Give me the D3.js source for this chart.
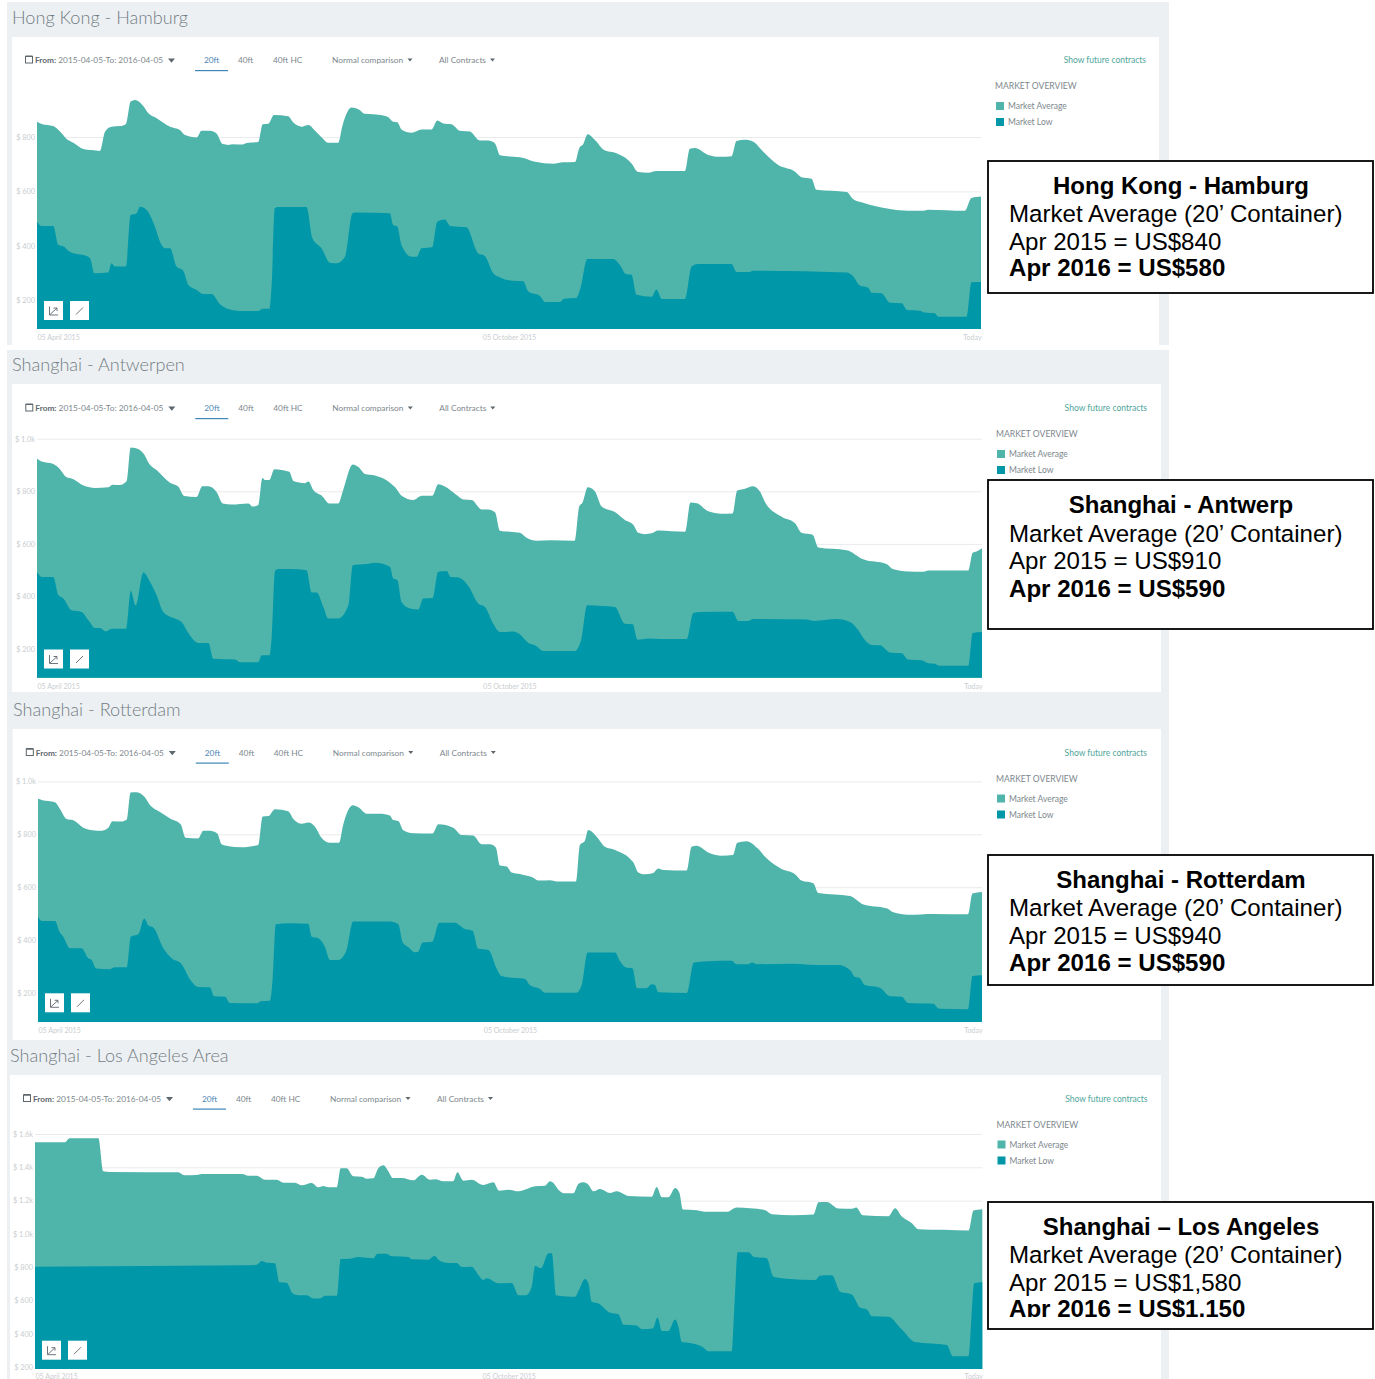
<!DOCTYPE html>
<html>
<head>
<meta charset="utf-8">
<script src="https://cdn.jsdelivr.net/npm/d3@7.9.0/dist/d3.min.js"></script>
<style>
  html, body { margin: 0; padding: 0; background: #fff; overflow: hidden; }
  svg { display: block; font-family: Lato, "Open Sans", sans-serif; }
  .box text { font-family: "Liberation Sans", Arial, sans-serif; fill: #000; }
</style>
</head>
<body>
<svg id="chart" width="1375" height="1379"></svg>
<script>
// every series is [days since 05 April 2015, US$]
const hamburgAvg = [[0,856],[1.8,848],[6.3,840],[8.9,820],[11.5,793],[14.1,779],[18,756],[21.2,752],[24.4,749],[26.4,820],[28.9,838],[32.2,840],[34.5,848],[36.3,930],[38,936],[41.2,914],[43.2,887],[46.4,869],[51.6,838],[55.4,826],[57.4,807],[61.9,798],[63.8,823],[67.1,823],[69.6,813],[72,774],[74.2,771],[76.1,773],[79.3,772],[81.3,778],[85.8,782],[87.5,847],[89.7,849],[91.9,881],[97.4,876],[99.4,853],[102.6,838],[105.2,844],[107.8,823],[110.3,799],[112.9,779],[116.8,779],[118.5,844],[122,908],[124.6,902],[127.1,885],[133,881],[136.2,873],[138.1,856],[139.7,854],[141.3,828],[145.2,816],[149.1,828],[153,828],[155.2,861],[157.5,850],[160.7,847],[164,823],[167.8,820],[171.7,787],[174.9,787],[177.5,777],[179.5,733],[183.4,728],[188.5,723],[193.1,709],[200.2,702],[204,707],[208.6,708],[210.2,758],[211.8,774],[213.5,810],[216.3,789],[220.2,750],[224.1,742],[230.5,703],[233.1,671],[237,669],[240.2,675],[251.2,675],[253.1,757],[255.1,760],[260.3,734],[264.8,727],[269.3,729],[271.2,785],[274.5,790],[277.7,783],[281.6,746],[287.4,697],[293.8,673],[296.4,652],[300.3,647],[302.2,606],[313.9,598],[316.5,571],[319.7,560],[330.7,535],[337.8,529],[343.6,529],[345.5,533],[359.7,529],[362.3,576],[366,581]];
const hamburgLow = [[0,489],[1.8,473],[6.3,473],[8.3,403],[10.5,397],[12.1,382],[15.4,370],[18,366],[20.6,354],[22.2,299],[27.6,302],[28.9,336],[30.2,324],[34.5,324],[36.3,513],[38.6,520],[39.9,544],[42.5,532],[45.7,471],[47.7,415],[49.6,391],[51.6,391],[54.1,324],[56.7,309],[58.7,256],[61.9,238],[64.5,223],[67.7,223],[70.9,186],[73.5,170],[78.7,161],[85.8,161],[87.7,169],[90.1,169],[91,262],[92.2,538],[93.5,543],[104.5,543],[106.8,428],[110.3,391],[113.6,338],[116.2,336],[119.4,360],[122.3,520],[123.3,523],[136.8,520],[138.1,477],[139.7,471],[141.3,403],[145.2,360],[147.2,360],[149.1,391],[153.2,395],[155.2,489],[158.1,497],[160.3,473],[166.5,468],[171,373],[173.6,363],[176.9,299],[179.5,284],[183.4,273],[188.5,270],[190.5,232],[195,216],[197,194],[202.8,194],[204.3,206],[209,208],[210.5,238],[213.4,352],[223.4,352],[226,330],[228.3,297],[230.5,294],[232.5,220],[238.3,213],[240.2,240],[242.2,205],[251.2,205],[253.8,324],[256.4,333],[269.3,333],[271.2,304],[275.8,304],[277.7,309],[313.9,302],[316.5,287],[319,254],[322.3,246],[323.6,228],[327.4,226],[330.7,191],[335.2,189],[337.4,164],[342.3,162],[344.2,155],[348.1,152],[349.4,140],[360.4,140],[362.3,266],[366,267]];

const antwerpAvg = [[0,925],[1.8,913],[6.3,904],[8.9,884],[11.2,855],[14.1,846],[18,822],[22.5,813],[27.6,815],[29.2,825],[32.1,824],[34.7,838],[36.3,967],[38,965],[41.4,942],[43.5,904],[46.3,881],[51.5,833],[54.7,818],[57,782],[61.8,778],[64,819],[66.4,819],[69.6,796],[71.9,754],[75.4,750],[81.9,754],[83.5,742],[85.7,748],[87.3,851],[88.3,843],[90,843],[91.9,884],[97.7,874],[99.3,839],[103.8,831],[105.1,837],[107,805],[110.3,783],[113.2,754],[116.7,754],[118.6,805],[122.3,902],[124.5,892],[127,866],[130.9,860],[136.7,833],[138.7,815],[141.2,783],[145.8,767],[149,783],[153.1,783],[155.4,827],[158,818],[162.5,786],[165.1,769],[168.4,767],[172.2,731],[174.8,731],[177.4,720],[179.3,650],[183.2,646],[187,642],[189.6,623],[193.5,612],[198.7,614],[208.3,612],[210,742],[211.3,757],[213.3,815],[216.1,799],[218.7,742],[223.8,721],[227.7,691],[231,672],[232.9,642],[235.5,637],[238,640],[240.6,651],[251,646],[253.1,757],[255.5,755],[260,724],[265.1,715],[269.4,716],[271.2,803],[274.2,810],[277.2,819],[280,799],[282,758],[288.4,703],[293.6,678],[296.1,642],[300.4,635],[302.6,586],[313.6,576],[320,541],[329,523],[331.4,504],[337.4,495],[343.3,494],[345.2,499],[360.7,499],[362.4,566],[363.9,571],[366,583]];
const antwerpLow = [[0,494],[1.8,474],[6.3,474],[8.3,405],[10.2,392],[13.4,347],[17.3,341],[19.9,309],[22.5,280],[24.4,280],[26.7,267],[28.9,277],[34.5,277],[36.3,421],[38.2,366],[41.2,491],[43.8,455],[46.3,405],[48.9,341],[52.8,318],[56,303],[58.6,261],[62.5,223],[66.4,223],[68.3,163],[76.7,160],[78.6,150],[85.7,150],[87,176],[90,176],[90.9,246],[92.2,497],[93.5,504],[98,504],[104.4,500],[106.4,415],[108.3,415],[110.9,360],[112.8,316],[116.7,316],[120.6,366],[122.3,519],[127.7,523],[130.9,528],[136.7,513],[138,468],[139.6,462],[141.2,379],[144.5,354],[147.7,350],[149.6,392],[153.2,394],[155.4,494],[158.7,497],[160.2,474],[163.2,472],[167.1,439],[170.9,373],[173.5,360],[176.7,296],[179.3,265],[183.2,266],[184.5,267],[187,256],[190.3,223],[192.9,214],[196.1,192],[208.3,192],[210.7,233],[213.1,366],[218.7,364],[223.8,360],[227.7,296],[230.7,294],[232.6,235],[236.8,240],[241.3,238],[251.6,238],[254.2,337],[256.8,341],[269.4,342],[271.6,307],[275.5,307],[277.4,314],[298.1,312],[300.7,307],[309.7,314],[314.9,303],[318.1,271],[320.7,233],[323.3,215],[326.5,214],[330.3,187],[334.9,184],[337.4,160],[342.6,157],[345.2,146],[347.8,144],[349.5,136],[360.7,136],[362.4,261],[366,265]];

const rotterdamAvg = [[0,934],[1.4,930],[6.6,921],[8.5,896],[11.1,858],[13.7,853],[17.6,825],[22.1,814],[24,813],[27.3,825],[28.9,849],[31.8,848],[34.4,855],[35.9,958],[38,959],[41.5,939],[43.4,911],[47,886],[51.2,860],[55.3,838],[57.2,787],[62.1,784],[64.1,813],[66.7,813],[69.5,803],[71.2,762],[73.8,755],[78.9,751],[85.4,760],[87.1,867],[89.3,869],[91.9,895],[97,887],[99,858],[102.2,840],[104.8,845],[107.4,829],[109.9,787],[113.2,768],[116.7,768],[118.3,835],[122,910],[124.2,902],[127.4,878],[132.6,878],[136.4,871],[137.7,854],[139.7,850],[141.6,815],[145.5,804],[153,803],[155.2,838],[161,825],[164.2,797],[168.7,795],[172,762],[175.2,762],[177.5,750],[179.1,682],[181.7,678],[183.6,656],[186.9,650],[188.8,645],[192,636],[194,625],[198.5,626],[201.1,622],[208.6,622],[210.1,760],[212,775],[213.3,816],[216.6,791],[219.8,753],[223.7,741],[230.8,694],[232.7,656],[235.3,649],[238.5,654],[240.5,671],[242.4,665],[251.5,663],[253.4,753],[255.3,757],[260.5,728],[265,719],[269.5,722],[271.1,768],[274.7,774],[279.2,745],[281.8,716],[288.3,669],[293.4,650],[296,625],[300.6,615],[302.5,578],[314.8,567],[320,535],[329,520],[331.6,505],[337.4,496],[347.1,499],[360.6,498],[362.3,576],[366,582]];
const rotterdamLow = [[0,489],[1.4,472],[6.6,472],[8.3,432],[9.8,413],[12.4,369],[16.9,369],[19.5,331],[20.8,325],[22.5,293],[27.9,290],[29.8,297],[34.4,297],[36,413],[38.9,422],[41.2,482],[42.8,455],[44.7,448],[48.6,369],[51.8,331],[55.7,309],[58.9,252],[62.1,223],[66.7,222],[68.2,188],[72.5,186],[74.4,162],[84.8,161],[86.7,170],[89.9,171],[91,256],[92.2,460],[97.7,464],[104.8,462],[106.1,413],[108.7,407],[111.2,375],[113.2,325],[116.4,325],[119.4,356],[122.2,470],[136.4,470],[139.7,460],[141.3,394],[143.6,373],[146.1,354],[147.4,356],[149.1,391],[152.8,394],[155.6,466],[161.6,466],[165.5,442],[168.5,435],[170.7,367],[174.6,363],[177.8,293],[179.7,264],[183.6,258],[186.9,256],[188.8,253],[190.7,230],[194.6,215],[196.5,201],[208.8,201],[210.8,230],[213.1,353],[223.7,353],[225.6,321],[228,296],[230.5,293],[232.3,218],[235.9,218],[237.9,233],[239.2,230],[240.5,203],[251.5,200],[254.3,315],[261.8,321],[268.9,322],[270.8,309],[275.4,309],[276.9,315],[278.6,309],[292.8,311],[301.8,306],[310.2,306],[314.8,287],[316.7,261],[318.6,256],[320.6,230],[326.4,220],[330.3,188],[334.8,186],[337.4,162],[347.1,159],[349.4,140],[360.6,139],[362.3,264],[366,267]];

const losAngelesAvg = [[0,1551],[11.6,1551],[13.3,1575],[24.5,1575],[26.4,1376],[29,1372],[55.4,1370],[57.6,1352],[62.5,1354],[64.4,1360],[79.9,1360],[82.4,1350],[85.7,1350],[88.9,1326],[93.4,1326],[96,1308],[100.5,1308],[103,1292],[106.9,1306],[109.5,1280],[111.4,1288],[113.3,1280],[116.6,1280],[118.1,1394],[120.4,1394],[123,1346],[126.2,1344],[128.2,1332],[130.7,1334],[132.7,1396],[134.6,1412],[136.5,1376],[138.2,1336],[141.7,1336],[146.2,1322],[149.4,1356],[152.6,1326],[154.6,1328],[157.8,1316],[161.6,1316],[163.2,1370],[165.5,1320],[168.7,1326],[173.2,1294],[177.1,1310],[179.3,1260],[182.9,1266],[186.8,1256],[193.2,1286],[197.1,1290],[199,1316],[200.3,1306],[202.2,1266],[204.8,1244],[208,1244],[210,1302],[211.9,1310],[213.8,1296],[215.8,1256],[218.3,1270],[222.2,1246],[224.8,1256],[229.3,1228],[238.3,1224],[240.2,1282],[242.2,1220],[244.7,1220],[247.3,1276],[249,1246],[250.3,1147],[255.7,1143],[259.6,1133],[267.3,1133],[271.1,1159],[276.3,1155],[282.1,1143],[284.7,1119],[293,1113],[300.8,1117],[302.7,1190],[305.9,1192],[310.4,1153],[315.6,1151],[317.3,1159],[319.8,1113],[329.7,1107],[332.3,1155],[334.9,1105],[338.8,1065],[341.3,1029],[351,1025],[360.7,1021],[362.6,1141],[366,1149]];
const losAngelesLow = [[0,804],[56.7,810],[81.8,812],[85.7,816],[87.6,838],[89.5,828],[92.7,824],[94.4,710],[97.2,708],[99.6,643],[101.8,633],[105,633],[107.6,613],[110.1,613],[112.1,629],[116.6,629],[118.1,850],[121.7,852],[124.9,862],[130.7,854],[132.3,882],[135.9,882],[137.8,866],[144.3,862],[145.5,848],[152,846],[154.3,868],[156.5,838],[159.7,826],[162.9,826],[164.9,802],[168.7,804],[171.3,754],[173.2,724],[174.5,734],[179,704],[184.2,706],[186.8,633],[189.7,633],[191.9,684],[193.2,808],[195.5,794],[198.4,884],[199.7,884],[201.3,633],[208.7,623],[210,659],[212.5,730],[213.8,704],[215.1,593],[217.7,583],[222.2,527],[225.4,519],[227.4,455],[232.5,451],[234.4,429],[238.7,433],[240.5,499],[242.2,418],[244.7,418],[247.3,487],[248.6,443],[249.9,352],[253.1,346],[258.3,318],[260.2,296],[269.2,296],[270.2,563],[271.5,890],[275.7,890],[277.6,864],[282.7,854],[285.3,744],[290.5,732],[301.4,724],[303.3,750],[307.9,752],[311.1,653],[315.6,637],[318.8,557],[321.4,547],[323.3,507],[329.7,503],[334.9,427],[340,352],[352.3,334],[354.6,266],[360.7,266],[362.9,704],[366,710]];

const shortTicks = [200, 400, 600, 800];
const midTicks = [200, 400, 600, 800, 1000];
const longTicks = [200, 400, 600, 800, 1000, 1200, 1400, 1600];
const xTicks = [0, 183, 366];
const xTickLabels = ['05 April 2015', '05 October 2015', 'Today'];
const lastDay = 366;

const containerTabs = ['20ft', '40ft', '40ft HC'];
const rangeLabel = '2015-04-05-To: 2016-04-05';
const legendLabels = ['Market Average', 'Market Low'];

const avgColor = '#4fb4aa';
const lowColor = '#0097a9';
const pageGray = '#ecf0f3';
const labelGray = '#7d878d';
const tickGray = '#c9cdcf';

const panels = [
  { title: 'Hong Kong - Hamburg', titleX: 12, titleY: 24, avg: hamburgAvg, low: hamburgLow, ticks: shortTicks,
    card: [12, 37, 1159, 345], x0: 37, x1: 981, y200: 300.3, y800: 137, base: 329, barY: 60, barDx: 0, sideDx: 0, btnY: 301, btnDx: 0, xLabelY: 344,
    box: { top: 161, bottom: 293, head: 'Hong Kong - Hamburg', lines: [194, 222, 250, 276], was: 'US$840', now: 'US$580' } },
  { title: 'Shanghai - Antwerpen', titleX: 12, titleY: 371, avg: antwerpAvg, low: antwerpLow, ticks: midTicks,
    card: [12, 384, 1161, 692], x0: 37, x1: 982, y200: 649, y800: 491.3, base: 677.7, barY: 408, barDx: 0.3, sideDx: 1, btnY: 649.5, btnDx: 0, xLabelY: 693,
    box: { top: 480, bottom: 629, head: 'Shanghai - Antwerp', lines: [513, 542, 569, 597], was: 'US$910', now: 'US$590' } },
  { title: 'Shanghai - Rotterdam', titleX: 13, titleY: 716, avg: rotterdamAvg, low: rotterdamLow, ticks: midTicks,
    card: [12.7, 729, 1161, 1040], x0: 38, x1: 982, y200: 993, y800: 834.3, base: 1022, barY: 752.5, barDx: 0.8, sideDx: 1, btnY: 993.3, btnDx: 1, xLabelY: 1037,
    box: { top: 855, bottom: 985, head: 'Shanghai - Rotterdam', lines: [888, 916, 944, 971], was: 'US$940', now: 'US$590' } },
  { title: 'Shanghai - Los Angeles Area', titleX: 10, titleY: 1062, avg: losAngelesAvg, low: losAngelesLow, ticks: longTicks,
    card: [10, 1075, 1161, 1379], x0: 35, x1: 982.3, y200: 1367.3, y800: 1267.3, base: 1369, barY: 1098.5, barDx: -2, sideDx: 1.5, btnY: 1340.7, btnDx: -2, xLabelY: 1383,
    box: { top: 1202, bottom: 1329, head: 'Shanghai \u2013 Los Angeles', lines: [1235, 1263, 1291, 1317], was: 'US$1,580', now: 'US$1,150', clipAt: 1317 } }
];

const svg = d3.select('#chart');

// gray page bands behind the cards
svg.append('rect').attr('x', 7).attr('y', 2).attr('width', 1162).attr('height', 343).attr('fill', pageGray);
svg.append('rect').attr('x', 7).attr('y', 350).attr('width', 1162).attr('height', 1029).attr('fill', pageGray);

function tickText(d) {
  return d >= 1000 ? `$ ${(d / 1000).toFixed(1)}k` : `$ ${d}`;
}

function drawToolbar(g, p) {
  const bar = g.append('g').attr('transform', `translate(${p.barDx},${p.barY})`);
  const label = (x, text, color = labelGray) => bar.append('text')
    .attr('x', x).attr('y', 3).attr('font-size', 8.3).attr('fill', color).text(text);
  const caret = (x, w) => bar.append('path')
    .attr('d', `M${x},-1.5h${w}l${-w / 2},${w * 0.6}z`).attr('fill', '#5d676d');

  bar.append('rect').attr('x', 25.5).attr('y', -3.5).attr('width', 7).attr('height', 6.5)
    .attr('fill', 'none').attr('stroke', '#5d676d');
  bar.append('rect').attr('x', 25.5).attr('y', -4.5).attr('width', 7).attr('height', 1.5).attr('fill', '#5d676d');
  bar.append('text').attr('x', 35).attr('y', 3).attr('font-size', 8.3).attr('fill', labelGray)
    .html(`<tspan font-weight="700" fill="#5d676d">From:</tspan> ${rangeLabel}`);
  caret(168, 7);

  const tabX = [204, 238, 273];
  containerTabs.forEach((t, i) => label(tabX[i], t, i === 0 ? '#4d86b5' : labelGray));
  bar.append('rect').attr('x', 195).attr('y', 10).attr('width', 33).attr('height', 1.2).attr('fill', '#3f86b8');

  label(332, 'Normal comparison');
  caret(407.5, 5);
  label(439, 'All Contracts');
  caret(490, 5);

  bar.append('text').attr('x', 1146 - p.barDx + p.sideDx).attr('y', 3).attr('font-size', 8.5)
    .attr('text-anchor', 'end').attr('fill', '#4fa59b').text('Show future contracts');
}

function drawLegend(g, p) {
  const side = g.append('g').attr('transform', `translate(${995 + p.sideDx},${p.barY + 26})`);
  side.append('text').attr('y', 3).attr('font-size', 8.6).attr('fill', labelGray).text('MARKET OVERVIEW');
  legendLabels.forEach((name, i) => {
    const row = side.append('g').attr('transform', `translate(0,${20 + i * 16})`);
    row.append('rect').attr('x', 1).attr('y', -4).attr('width', 8).attr('height', 8)
      .attr('fill', i === 0 ? avgColor : lowColor);
    row.append('text').attr('x', 13).attr('y', 3).attr('font-size', 8.5).attr('fill', labelGray).text(name);
  });
}

function drawButtons(g, p) {
  [44, 70].forEach((bx, i) => {
    const b = g.append('g').attr('transform', `translate(${bx + p.btnDx},${p.btnY})`);
    b.append('rect').attr('width', 19).attr('height', 19).attr('fill', '#fff');
    b.append('path')
      .attr('d', i === 0 ? 'M5.5,5.5V14H14M6,13.5L13,7M9.5,7H13V10' : 'M6,13.5L13,6.5')
      .attr('fill', 'none').attr('stroke', '#5d676d').attr('stroke-width', 0.9);
  });
}

function drawInfoBox(g, box, index) {
  const b = box;
  const left = 988, right = 1373;
  const wrap = g.append('g').attr('class', 'box');
  wrap.append('rect').attr('x', left).attr('y', b.top).attr('width', right - left).attr('height', b.bottom - b.top)
    .attr('fill', '#fff').attr('stroke', '#000').attr('stroke-width', 1.8);
  wrap.append('text').attr('x', 1181).attr('y', b.lines[0]).attr('text-anchor', 'middle')
    .attr('font-size', 24).attr('font-weight', 700).text(b.head);
  wrap.append('text').attr('x', 1009).attr('y', b.lines[1]).attr('font-size', 24.1).text('Market Average (20\u2019 Container)');
  wrap.append('text').attr('x', 1009).attr('y', b.lines[2]).attr('font-size', 24.1).text(`Apr 2015 = ${b.was}`);
  const last = wrap.append('text').attr('x', 1009).attr('y', b.lines[3]).attr('font-size', 24.1)
    .attr('font-weight', 700).text(`Apr 2016 = ${b.now}`);
  if (b.clipAt) {
    // the last line of this box is cut off at its baseline in the source
    svg.append('clipPath').attr('id', `boxClip${index}`)
      .append('rect').attr('x', left).attr('y', b.top).attr('width', right - left).attr('height', b.clipAt - b.top);
    last.attr('clip-path', `url(#boxClip${index})`);
  }
}

panels.forEach((p, index) => {
  const g = svg.append('g').attr('class', 'panel');
  const [cx0, cy0, cx1, cy1] = p.card;

  g.append('text').attr('x', p.titleX).attr('y', p.titleY).attr('font-size', 18.1)
    .attr('font-weight', 300).attr('fill', '#737d83').text(p.title);
  g.append('rect').attr('x', cx0).attr('y', cy0).attr('width', cx1 - cx0).attr('height', cy1 - cy0).attr('fill', '#fff');

  const x = d3.scaleLinear().domain([0, lastDay]).range([p.x0, p.x1]);
  const y = d3.scaleLinear().domain([200, 800]).range([p.y200, p.y800]);

  // horizontal grid, labels sit left of the plot
  const yAxis = g.append('g').attr('transform', `translate(${p.x0},0)`)
    .call(d3.axisLeft(y).tickValues(p.ticks).tickSize(-(p.x1 - p.x0)).tickPadding(2).tickFormat(tickText));
  yAxis.select('.domain').remove();
  yAxis.selectAll('line').attr('stroke', '#e9ebec');
  yAxis.selectAll('text').attr('font-size', 7.3).attr('font-family', 'Lato').attr('fill', tickGray);

  const area = d3.area()
    .x((d) => x(d[0]))
    .y0(p.base)
    .y1((d) => y(d[1]))
    .curve(d3.curveMonotoneX);

  g.append('path').datum(p.avg).attr('d', area).attr('fill', avgColor);
  g.append('path').datum(p.low).attr('d', area).attr('fill', lowColor);

  const xAxis = g.append('g').attr('transform', `translate(0,${p.xLabelY - 11})`)
    .call(d3.axisBottom(x).tickValues(xTicks).tickSize(0).tickPadding(2).tickFormat((d, i) => xTickLabels[i]));
  xAxis.select('.domain').remove();
  xAxis.selectAll('text').attr('font-size', 7).attr('font-family', 'Lato').attr('fill', tickGray)
    .attr('text-anchor', (d, i) => ['start', 'middle', 'end'][i]);

  drawToolbar(g, p);
  drawLegend(g, p);
  drawButtons(g, p);
});

// info boxes overlap the cards, so they go on last
panels.forEach((p, index) => drawInfoBox(svg.append('g'), p.box, index));
</script>
</body>
</html>
